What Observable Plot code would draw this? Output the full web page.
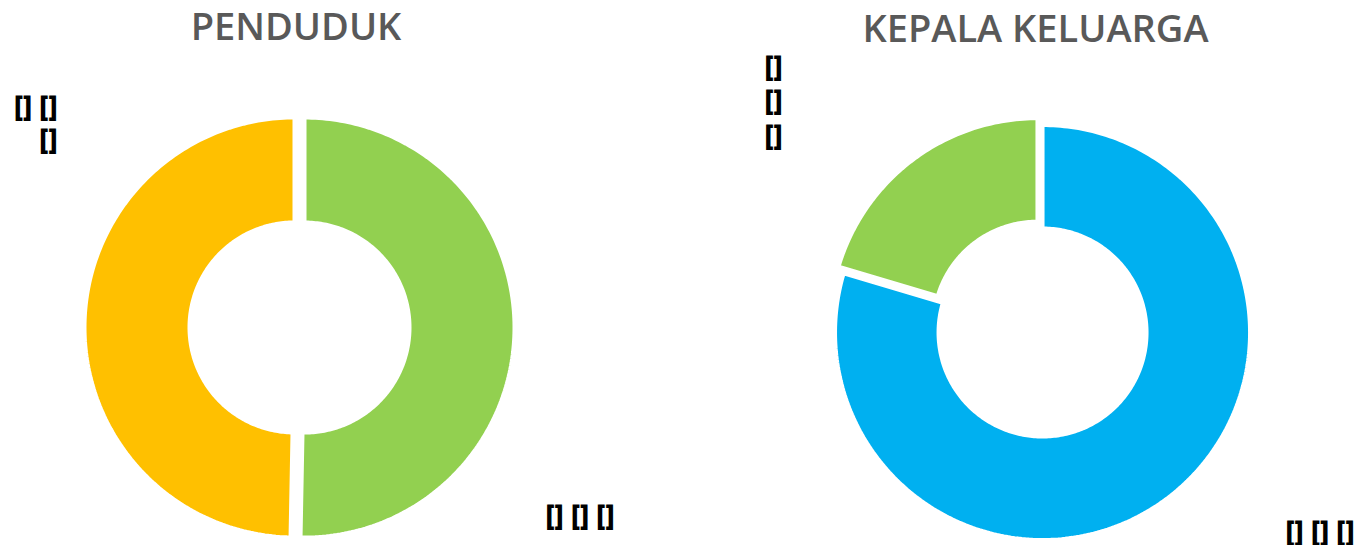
<!DOCTYPE html>
<html>
<head>
<meta charset="utf-8">
<script src="https://cdn.jsdelivr.net/npm/d3@7"></script>
<script src="https://cdn.jsdelivr.net/npm/@observablehq/plot@0.6"></script>
<style>
  html, body { margin: 0; padding: 0; background: #fff; }
  #chart svg { display: block; }
</style>
</head>
<body>
<div id="chart"></div>
<script>
// ---- data ----
const chartTitles = ["PENDUDUK", "KEPALA KELUARGA"];
const pendudukCategories = ["Laki-laki", "Perempuan"];
const pendudukValues = [50.3, 49.7];
const kkCategories = ["Laki-laki", "Perempuan"];
const kkValues = [79.6, 20.4];
// data label texts (rendered as in the reference), one per slice
const pendudukLabelTexts = ["[] [] []", "[] []\n[]"];
const kkLabelTexts = ["[] [] []", "[]\n[]\n[]"];

// ---- styles ----
const pendudukColors = ["#92D050", "#FFC000"];
const kkColors = ["#00B0F0", "#92D050"];

// ---- layout ----
const W = 1362, H = 545;
const donuts = [
  {title: chartTitles[0], cats: pendudukCategories, vals: pendudukValues, colors: pendudukColors,
   labels: pendudukLabelTexts, cx: 299, cy: 327, r0: 105, r1: 210, explode: 5,
   titlePos: [295.5, 27.8],
   labelPos: [{x: 545, y: 513.5, anchor: "start", lh: 1.2}, {x: 57, y: 121.5, anchor: "end", lh: 1.18}]},
  {title: chartTitles[1], cats: kkCategories, vals: kkValues, colors: kkColors,
   labels: kkLabelTexts, cx: 1039.5, cy: 328.6, r0: 104, r1: 207.5, explode: 4.25,
   titlePos: [1035, 29.2],
   labelPos: [{x: 1285, y: 529.5, anchor: "start", lh: 1.2}, {x: 764, y: 98.7, anchor: "start", lh: 1.24}]}
];

const pie = d3.pie().sort(null).value(d => d).startAngle(0).endAngle(2 * Math.PI);

const slicePts = [];
const labelRows = [];
const titleRows = [];
donuts.forEach((dn, di) => {
  const arcs = pie(dn.vals);
  arcs.forEach((a, i) => {
    const mid = (a.startAngle + a.endAngle) / 2;
    const ox = dn.cx + dn.explode * Math.sin(mid);
    const oy = dn.cy - dn.explode * Math.cos(mid);
    const n = Math.max(8, Math.ceil((a.endAngle - a.startAngle) / (Math.PI / 180)));
    const key = `${di}-${i}`;
    for (let k = 0; k <= n; k++) {
      const t = a.startAngle + (a.endAngle - a.startAngle) * k / n;
      slicePts.push({key, fill: dn.colors[i], x: ox + dn.r1 * Math.sin(t), y: oy - dn.r1 * Math.cos(t)});
    }
    for (let k = n; k >= 0; k--) {
      const t = a.startAngle + (a.endAngle - a.startAngle) * k / n;
      slicePts.push({key, fill: dn.colors[i], x: ox + dn.r0 * Math.sin(t), y: oy - dn.r0 * Math.cos(t)});
    }
    const lp = dn.labelPos[i];
    labelRows.push({text: dn.labels[i], x: lp.x, y: lp.y, anchor: lp.anchor, lh: lp.lh, category: dn.cats[i], value: a.data});
  });
  titleRows.push({text: dn.title, x: dn.titlePos[0], y: dn.titlePos[1]});
});

const labelMarks = labelRows.map(d => Plot.text([d], {x: "x", y: "y", text: "text", fontSize: 28,
  fontWeight: 800, fontFamily: "Open Sans", fill: "#000", textAnchor: d.anchor,
  lineAnchor: "middle", lineHeight: d.lh}));

const chart = Plot.plot({
  width: W,
  height: H,
  margin: 0,
  x: {domain: [0, W], range: [0, W], axis: null},
  y: {domain: [0, H], range: [0, H], axis: null},
  color: {type: "identity"},
  style: {background: "#fff"},
  marks: [
    Plot.line(slicePts, {x: "x", y: "y", z: "key", fill: "fill", stroke: "#fff", strokeWidth: 4,
      curve: "linear-closed", strokeLinejoin: "miter"}),
    Plot.text(titleRows, {x: "x", y: "y", text: "text", fontSize: 38, fontWeight: 600,
      fontFamily: "Open Sans", fill: "#595959", textAnchor: "middle", lineAnchor: "middle"}),
    ...labelMarks
  ]
});
document.getElementById("chart").appendChild(chart);
</script>
</body>
</html>
